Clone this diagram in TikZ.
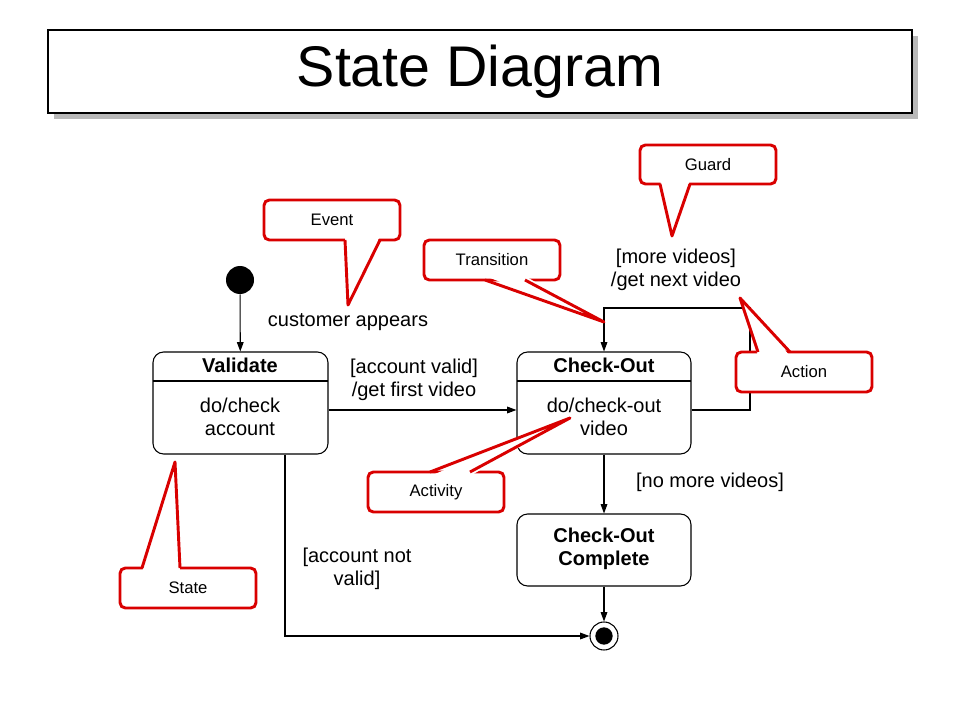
\documentclass[tikz,border=0pt]{standalone}
\usepackage{fontspec}
\setmainfont{Liberation Sans}
\usetikzlibrary{arrows.meta}
\begin{document}
\begin{tikzpicture}[x=0.75pt,y=-0.75pt,
  st/.style={draw,rounded corners=8pt,line width=0.8pt,inner sep=0},
  lbl/.style={font=\fontsize{15}{17}\selectfont,align=center},
  ttl/.style={font=\fontsize{15}{17}\selectfont\bfseries},
  tr/.style={line width=0.8pt,-{Triangle[length=7pt,width=5pt]}},
  cbox/.style={draw=red!85!black,fill=white,line width=2.2pt,rounded corners=4pt},
  ctext/.style={font=\fontsize{12.5}{14}\selectfont}]
\fill[white] (0,0) rectangle (960,720);
\useasboundingbox (0,0) rectangle (960,720);
% title
\fill[gray!55] (54,36) rectangle (918,119);
\node[draw,fill=white,line width=0.8pt,minimum width=648pt,minimum height=62.25pt,inner sep=0] (title) at (480,71.5) {};
\node[font=\fontsize{43}{48}\selectfont] at (title) {State Diagram};
% initial
\node[circle,fill=black,minimum size=21pt,inner sep=0] (init) at (240,280) {};
% states
\node[st,minimum width=131.25pt,minimum height=76.5pt] (val) at (240.5,403) {};
\draw[line width=0.8pt] (153,381) -- (328,381);
\node[ttl] at (240,365) {Validate};
\node[lbl] at (240,417) {do/check\\account};
\node[st,minimum width=130.5pt,minimum height=76.5pt] (co) at (604,403) {};
\draw[line width=0.8pt] (517,381) -- (691,381);
\node[ttl] at (604,365) {Check-Out};
\node[lbl] at (604,417) {do/check-out\\video};
\node[st,minimum width=130.5pt,minimum height=54pt] (cc) at (604,550) {};
\node[ttl,align=center] at (604,549) {Check-Out\\Complete};
% final
\node[circle,draw,line width=0.8pt,minimum size=21pt,inner sep=0] (fin) at (604,636) {};
\fill (fin) circle (6.5pt);
% transitions
\draw[tr] (init) -- (val);
\node[lbl] at (348,322) {customer appears};
\draw[tr] (val.east |- 0,410) -- (co.west |- 0,410);
\node[lbl] at (414,380) {[account valid]\\/get first video};
\coordinate (l1) at (750,410); \coordinate (l2) at (750,308); \coordinate (l3) at (604,308);
\draw[tr] (co.east |- l1) -- (l1) -- (l2) -- (l3) -- (co.north);
\node[lbl] at (676,270) {[more videos]\\/get next video};
\draw[tr] (co.south) -- (cc.north);
\node[lbl] at (710,482) {[no more videos]};
\draw[tr] (cc.south) -- (fin.north);
\coordinate (b1) at (285,636);
\draw[tr] (val.south -| b1) -- (b1) -- (fin.west);
\node[lbl] at (357,569) {[account not\\valid]};
% callouts
\newcommand\callout[8]{% x1,y1,x2,y2,text,basex1,basex2,tip
  \draw[cbox] (#1,#2) rectangle (#3,#4);
  \node[ctext] at ({(#1+#3)/2},{(#2+#4)/2}) {#5};
}
\callout{640}{145}{776}{184}{Guard}{}{}{}
\fill[white] (660,180) -- (672,236) -- (690,180) -- cycle;
\draw[red!85!black,line width=2.2pt,line join=round] (660,184) -- (672,236) -- (690,184);
\callout{264}{200}{400}{240}{Event}{}{}{}
\fill[white] (345,236) -- (348,305) -- (380,236) -- cycle;
\draw[red!85!black,line width=2.2pt,line join=round] (345,240) -- (348,305) -- (380,240);
\callout{424}{240}{560}{280}{Transition}{}{}{}
\fill[white] (485,276) -- (604,322) -- (525,276) -- cycle;
\draw[red!85!black,line width=2.2pt,line join=round] (485,280) -- (604,322) -- (525,280);
\callout{736}{352}{872}{392}{Action}{}{}{}
\fill[white] (758,356) -- (740,298) -- (790,356) -- cycle;
\draw[red!85!black,line width=2.2pt,line join=round] (758,352) -- (740,298) -- (790,352);
\callout{368}{472}{504}{512}{Activity}{}{}{}
\fill[white] (430,476) -- (570,418) -- (470,476) -- cycle;
\draw[red!85!black,line width=2.2pt,line join=round] (430,472) -- (570,418) -- (470,472);
\callout{120}{568}{256}{608}{State}{}{}{}
\fill[white] (142,572) -- (175,462) -- (180,572) -- cycle;
\draw[red!85!black,line width=2.2pt,line join=round] (142,568) -- (175,462) -- (180,568);
\end{tikzpicture}
\end{document}
